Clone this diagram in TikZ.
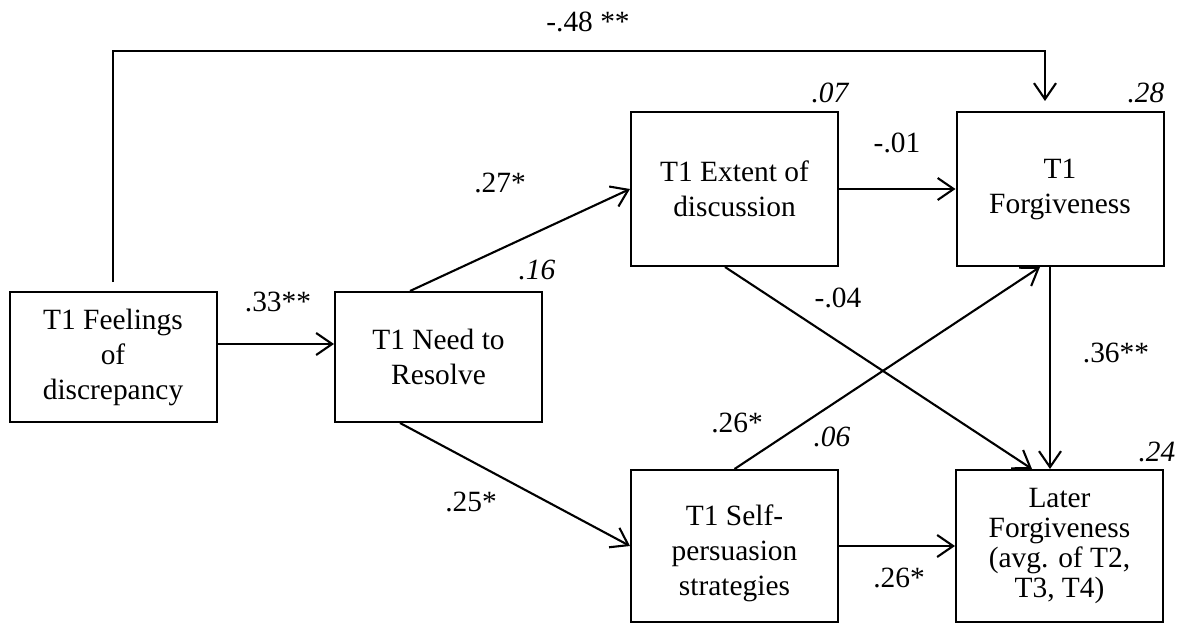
\documentclass[tikz,border=0pt]{standalone}
\usepackage{fontspec}
\setmainfont{Liberation Serif}
\usetikzlibrary{arrows.meta}
\begin{document}
\begin{tikzpicture}[x=0.5pt,y=-0.5pt,
  box/.style={draw, line width=1pt, minimum width=103.5pt, align=center, inner sep=0pt,
    font=\fontsize{14.7}{17.5}\selectfont},
  lbl/.style={inner sep=0pt, font=\fontsize{14.7}{17.5}\selectfont},
  rsq/.style={inner sep=0pt, font=\fontsize{14.7}{17.5}\selectfont\itshape},
  arr/.style={draw, line width=1.05pt, -{Straight Barb[length=8pt,width=11pt,line width=1.05pt]}}]
\useasboundingbox (0,0) rectangle (1189,626);
\fill[white] (0,0) rectangle (1189,626);

% boxes
\node[box, minimum height=65pt] (feel) at (113,357) {T1 Feelings\\of\\discrepancy};
\node[box, minimum height=65pt] (need) at (438.5,357) {T1 Need to\\Resolve};
\node[box, minimum height=77pt] (ext) at (734.5,189) {T1 Extent of\\discussion};
\node[box, minimum height=77pt] (forg) at (1060,189) {T1\\Forgiveness};
\node[box, minimum height=76pt] (self) at (734.5,546) {\raisebox{-3.5pt}[\height][\depth]{\parbox{100pt}{\centering T1 Self-\\persuasion\\strategies}}};
\node[box, minimum height=76pt, font=\fontsize{14.7}{15}\selectfont] (later) at (1059.5,546) {Later\\Forgiveness\\(avg. of T2,\\T3, T4)};

% connectors
\draw[arr] ([yshift=6.5pt]feel.east) -- ([yshift=6.5pt]feel.east -| need.west);
\draw[arr] ([xshift=-14.25pt]need.north) -- (ext.west);
\draw[arr] ([xshift=-19.25pt]need.south) -- (self.west);
\draw[arr] (ext.east) -- (forg.west);
\draw[arr] ([xshift=-4.75pt]ext.south) -- ([xshift=-13.75pt]later.north);
\draw[arr] (self.north) -- ([xshift=-10pt]forg.south);
\draw[arr] (self.east) -- (later.west);
\draw[arr] ([xshift=-5pt]forg.south) -- ([xshift=-5pt]forg.south |- later.north);
\coordinate (tr) at (1045,51);
\draw[arr, shorten <=4.5pt, shorten >=5pt] (feel.north) |- (tr) -- (tr |- forg.north);

% path coefficients
\node[lbl] (l33) at (278,302) {.33**};
\node[lbl] (l27) at (500,183) {.27*};
\node[lbl] (l25) at (471,502) {.25*};
\node[lbl] (l01) at (897,143) {-.01};
\node[lbl] (l04) at (838,298) {-.04};
\node[lbl] (l26a) at (737,423) {.26*};
\node[lbl] (l26b) at (899,578) {.26*};
\node[lbl] (l36) at (1116,353) {.36**};
\node[lbl] (l48) at (588,22) {-.48 **};

% R squared
\node[rsq] (r16) at (537,270) {.16};
\node[rsq] (r07) at (830,93) {.07};
\node[rsq] (r28) at (1146,93) {.28};
\node[rsq] (r06) at (832,437) {.06};
\node[rsq] (r24) at (1157,452) {.24};
\end{tikzpicture}
\end{document}
